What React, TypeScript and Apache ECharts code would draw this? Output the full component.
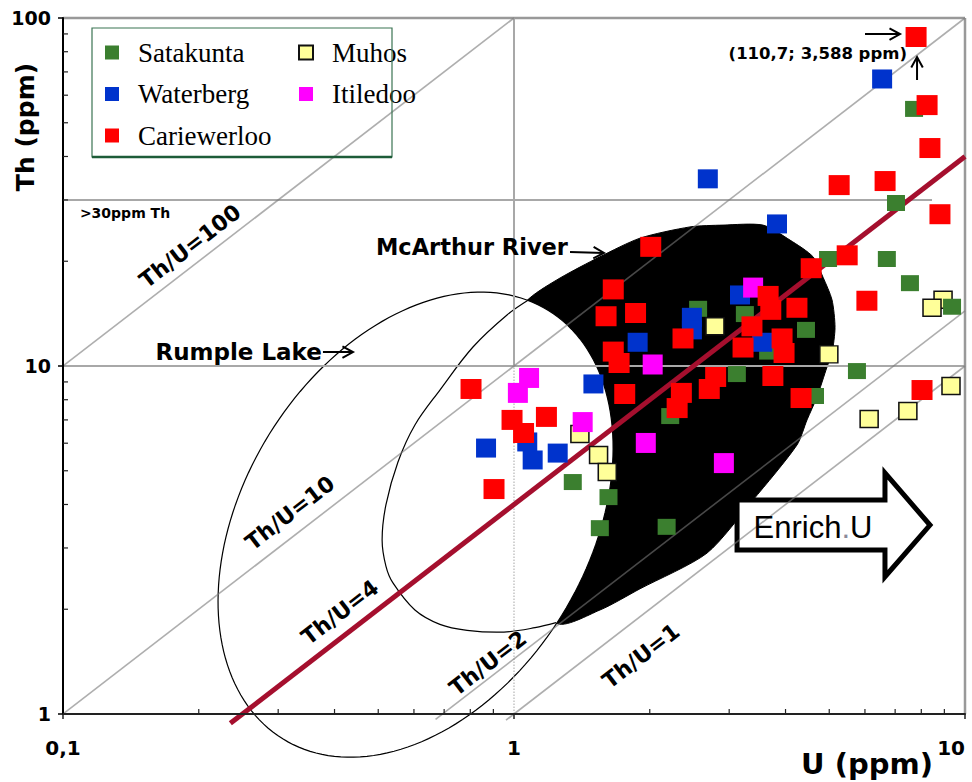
import React, { useEffect, useRef } from "react";
import * as echarts from "echarts";

const FONT_SANS = '"DejaVu Sans", "Liberation Sans", sans-serif';
const FONT_ARIAL = '"Liberation Sans", Arial, sans-serif';
const FONT_SERIF = '"Liberation Serif", "DejaVu Serif", serif';

// ---- data: [U (ppm), Th (ppm)] ----
const satakunta: number[][] = [
  [7.71, 54.8], [7.03, 29.4], [4.97, 20.3], [6.71, 20.3], [7.55, 17.3], [9.36, 14.8],
  [2.56, 14.6], [3.25, 14.1], [4.44, 12.7], [3.66, 11.0], [3.12, 9.48], [5.76, 9.67],
  [4.65, 8.2], [2.22, 7.18], [1.35, 4.64], [1.62, 4.2], [1.55, 3.42], [2.18, 3.45],
];
const waterberg: number[][] = [
  [6.55, 66.8], [2.69, 34.5], [3.83, 25.6], [3.17, 16.0], [2.48, 13.8], [2.48, 12.7],
  [3.55, 11.7], [1.88, 11.7], [1.5, 8.88], [0.867, 5.81], [1.07, 6.05], [1.1, 5.37], [1.25, 5.62],
];
const cariewerloo: number[][] = [
  [7.79, 88.2], [8.24, 56.2], [8.36, 42.3], [5.26, 33.1], [6.65, 34.0], [8.8, 27.3],
  [2.01, 22.0], [5.48, 20.8], [4.56, 19.1], [1.66, 16.6], [1.6, 13.9], [1.86, 14.2],
  [6.06, 15.4], [3.66, 15.9], [3.71, 14.5], [4.24, 14.7], [3.37, 13.0], [3.93, 12.0],
  [3.97, 10.9], [2.37, 12.0], [1.66, 11.0], [1.71, 10.2], [3.22, 11.3], [1.76, 8.31],
  [2.8, 9.3], [3.75, 9.36], [2.71, 8.59], [2.35, 8.37], [4.33, 8.09], [2.3, 7.57],
  [8.03, 8.53], [0.803, 8.59], [0.99, 7.0], [1.18, 7.14], [1.05, 6.42], [0.903, 4.43],
];
const muhos: number[][] = [
  [2.79, 13.0], [4.99, 10.8], [8.94, 15.5], [8.45, 14.7], [9.31, 8.76], [7.47, 7.42],
  [6.13, 7.04], [1.4, 6.38], [1.54, 5.55], [1.61, 4.96],
];
const itiledoo: number[][] = [
  [3.39, 16.8], [2.03, 10.1], [1.08, 9.24], [1.02, 8.37], [1.42, 6.9], [1.96, 6.01], [2.92, 5.26],
];

// ---- axes ----
const xTickValues = [0.1, 1, 10];
const xTickLabels = ["0,1", "1", "10"];
const yTickValues = [1, 10, 100];
const yTickLabels = ["1", "10", "100"];
const minorMultipliers = [2, 3, 4, 5, 6, 7, 8, 9];

// ---- Th/U reference lines ----
const ratioLineStarts: number[][] = [[0.096, 9.6], [0.096, 0.96], [0.67, 0.965], [0.96, 0.96]];
const ratioLineEnds: number[][] = [[1, 100], [10, 100], [10, 14.4], [10, 10]];
const mainRatioLine: number[][] = [[0.235, 0.94], [10, 40]];
const ratioLabels = ["Th/U=100", "Th/U=10", "Th/U=4", "Th/U=2", "Th/U=1"];
const ratioLabelPositions: number[][] = [[0.1913, 22.1], [0.3186, 3.78], [0.4113, 1.96], [0.8757, 1.4], [1.912, 1.468]];

// ---- guide lines ----
const guideTh10: number[][] = [[0.1, 10], [10, 10]];
const guideTh30: number[][] = [[0.1, 30], [8.45, 30]];
const guideTop: number[][] = [[0.1, 100], [10, 100]];
const guideRight: number[][] = [[10, 1], [10, 100]];
const guideU1Solid: number[][] = [[1, 10], [1, 100]];
const guideU1Dotted: number[][] = [[1, 1], [1, 10]];

// ---- fields ----
const mcArthurOutline: number[][] = [
  [1.085, 15.7], [1.265, 17.9], [1.551, 20.6], [1.903, 23.3], [2.456, 25.1], [2.907, 25.4],
  [3.565, 25.4], [4.093, 23.0], [4.603, 20.6], [4.843, 18.0], [5.071, 15.5], [5.15, 12.9],
  [5.071, 10.9], [4.943, 9.93], [4.697, 8.15], [4.464, 7.0], [4.241, 5.93], [3.388, 4.12],
  [2.679, 2.9], [1.903, 2.29], [1.551, 1.99], [1.239, 1.83], [0.841, 4.12], [0.841, 11.1],
];
const rumpleCenter = [0.605, 3.5];
const rumpleAxes = [0.2945, -0.3242, 0.6155, 0.2604];
const innerCurve: number[][] = [
  [1.085, 15.58], [0.965, 14.02], [0.811, 11.34], [0.685, 8.53], [0.603, 6.77], [0.553, 5.3],
  [0.52, 3.99], [0.51, 3.16], [0.52, 2.66], [0.539, 2.38], [0.603, 1.99], [0.685, 1.81],
  [0.787, 1.74], [0.95, 1.72], [1.113, 1.77], [1.239, 1.83],
];
const enrichArrow: number[][] = [
  [3.123, 4.12], [6.646, 4.12], [6.646, 4.93], [8.363, 3.49], [6.646, 2.48], [6.646, 2.96], [3.123, 2.96],
];

// ---- notes ----
const noteTexts = ["McArthur River", "Rumple Lake", ">30ppm Th", "(110,7; 3,588 ppm)"];
const notePositions: number[][] = [[1.317, 22.0], [0.375, 10.97], [0.109, 27.5], [7.436, 79.3]];
const noteAligns = ["right", "right", "left", "right"];
const noteSizes = [22.5, 23, 14, 16.5];
const enrichPosition: number[][] = [[4.603, 3.446]];
const arrowFrom: number[][] = [[1.331, 21.27], [0.377, 10.97], [6.002, 89.9], [7.828, 66.35]];
const arrowTo: number[][] = [[1.583, 21.13], [0.4395, 10.97], [7.177, 89.9], [7.828, 77.27]];

function buildOption() {
  const minorTicks: number[][] = [];
  for (let d = 0; d < xTickValues.length - 1; d++)
    for (const m of minorMultipliers) minorTicks.push([xTickValues[d] * m, yTickValues[0], 0]);
  for (let d = 0; d < yTickValues.length - 1; d++)
    for (const m of minorMultipliers) minorTicks.push([xTickValues[0], yTickValues[d] * m, 1]);

  const fmt = (vals: number[], labels: string[]) => (v: number) => {
    let best = 0;
    for (let i = 1; i < vals.length; i++)
      if (Math.abs(Math.log10(vals[i]) - Math.log10(v)) < Math.abs(Math.log10(vals[best]) - Math.log10(v))) best = i;
    return labels[best];
  };

  const line = (data: number[][], color: string, width: number, type = "solid", z = 2) => ({
    type: "line", data, symbol: "none", silent: true, clip: false, z,
    lineStyle: { color, width, type }, emphasis: { disabled: true },
  });

  const scatter = (name: string, data: number[][], color: string, size: number[], border?: string) => ({
    name, type: "scatter", data, symbol: "rect", symbolSize: size, z: 3, silent: true,
    itemStyle: border ? { color, borderColor: border, borderWidth: 1.5, opacity: 1 } : { color, opacity: 1 },
    emphasis: { disabled: true },
  });

  const gray = "rgba(120,120,120,0.6)";

  const legendCommon = {
    orient: "vertical", itemWidth: 14, itemHeight: 14, itemGap: 14.5, padding: 0, selectedMode: false,
    textStyle: { fontFamily: FONT_SERIF, fontSize: 27, color: "#000", lineHeight: 26, padding: [0, 0, 0, 14] },
  };

  return {
    animation: false,
    backgroundColor: "#fff",
    grid: { left: 63, right: 7, top: 18, bottom: 68, containLabel: false, outerBoundsMode: "none" },
    xAxis: {
      type: "log", logBase: 10, min: 0.1, max: 10, z: 5,
      axisLine: { lineStyle: { color: "#222", width: 2 } },
      axisTick: { show: true, length: 5, lineStyle: { color: "#222", width: 1.5 } },
      axisLabel: { formatter: fmt(xTickValues, xTickLabels), fontFamily: FONT_SANS, fontWeight: "bold", fontSize: 20, color: "#000", margin: 24, alignMaxLabel: "right" },
      splitLine: { show: false },
    },
    yAxis: {
      type: "log", logBase: 10, min: 1, max: 100, z: 5,
      axisLine: { lineStyle: { color: "#000", width: 2 } },
      axisTick: { show: true, length: 5, lineStyle: { color: "#000", width: 1.5 } },
      axisLabel: { formatter: fmt(yTickValues, yTickLabels), fontFamily: FONT_SANS, fontWeight: "bold", fontSize: 19, color: "#000", margin: 12 },
      splitLine: { show: false },
    },
    legend: [
      { ...legendCommon, data: ["Satakunta", "Waterberg", "Cariewerloo"], left: 105, top: 39 },
      { ...legendCommon, data: ["Muhos", "Itiledoo"], left: 298, top: 39 },
    ],
    graphic: [
      { type: "rect", shape: { x: 92, y: 28, width: 300, height: 129 }, style: { fill: "none", stroke: "#3b7453", lineWidth: 1.2 }, z: 10 },
      { type: "line", shape: { x1: 92, y1: 157, x2: 392, y2: 157 }, style: { stroke: "#1d5c38", lineWidth: 2.5 }, z: 10 },
      { type: "text", x: 25, y: 127, rotation: Math.PI / 2, style: { text: "Th (ppm)", fontFamily: FONT_SANS, fontWeight: "bold", fontSize: 25, fill: "#000", align: "center", verticalAlign: "middle" }, z: 10 },
      { type: "text", x: 867, y: 764, style: { text: "U (ppm)", fontFamily: FONT_SANS, fontWeight: "bold", fontSize: 29, fill: "#000", align: "center", verticalAlign: "middle" }, z: 10 },
    ],
    series: [
      {
        type: "custom", name: "fields", data: [[1, 10]], z: 1, silent: true, clip: false,
        renderItem: (params: any, api: any) => {
          const c = (p: number[]) => api.coord(p);
          const lc = [Math.log10(rumpleCenter[0]), Math.log10(rumpleCenter[1])];
          const ell: number[][] = [];
          for (let i = 0; i < 180; i++) {
            const t = (i / 180) * Math.PI * 2;
            const lu = lc[0] + rumpleAxes[0] * Math.cos(t) + rumpleAxes[1] * Math.sin(t);
            const lt = lc[1] + rumpleAxes[2] * Math.cos(t) + rumpleAxes[3] * Math.sin(t);
            ell.push(c([Math.pow(10, lu), Math.pow(10, lt)]));
          }
          return {
            type: "group",
            children: [
              { type: "polygon", shape: { points: mcArthurOutline.map(c), smooth: 0.25 }, style: { fill: "#000", stroke: "#000", lineWidth: 1 } },
              { type: "polygon", shape: { points: ell }, style: { fill: "#fff", stroke: "#000", lineWidth: 1.2 } },
              { type: "polyline", shape: { points: innerCurve.map(c), smooth: 0.35 }, style: { fill: "none", stroke: "#000", lineWidth: 1.2 } },
              { type: "polygon", shape: { points: enrichArrow.map(c) }, style: { fill: "#fff", stroke: "#000", lineWidth: 5, lineJoin: "miter" } },
            ],
          };
        },
      },
      line(guideTh10, "#a8a8a8", 2),
      line(guideTh30, "#a8a8a8", 2),
      line(guideTop, "#999", 2.5),
      line(guideRight, "#999", 2.5),
      line(guideU1Solid, "#a8a8a8", 2),
      line(guideU1Dotted, "#c4c4c4", 1.5, "dotted"),
      ...ratioLineStarts.map((s, i) => line([s, ratioLineEnds[i]], gray, 1.6)),
      line(mainRatioLine, "#a50f2e", 5),
      {
        type: "custom", name: "minorTicks", data: minorTicks, z: 6, silent: true, clip: false,
        renderItem: (params: any, api: any) => {
          const p = api.coord([api.value(0), api.value(1)]);
          const horiz = api.value(2) === 1;
          return {
            type: "line",
            shape: horiz ? { x1: p[0], y1: p[1], x2: p[0] + 5, y2: p[1] } : { x1: p[0], y1: p[1], x2: p[0], y2: p[1] - 5 },
            style: { stroke: "#222", lineWidth: 1.2 },
          };
        },
      },
      scatter("Muhos", muhos, "#ffff99", [18, 17], "#111"),
      scatter("Satakunta", satakunta, "#3b7f2f", [18, 16]),
      scatter("Waterberg", waterberg, "#0033cc", [20, 19]),
      scatter("Itiledoo", itiledoo, "#ff00ff", [20, 20]),
      scatter("Cariewerloo", cariewerloo, "#ff0000", [21, 20]),
      {
        type: "custom", name: "ratioLabels", data: ratioLabelPositions, z: 7, silent: true, clip: false,
        renderItem: (params: any, api: any) => {
          const p = api.coord([api.value(0), api.value(1)]);
          const a = api.coord([1, 1]);
          const b = api.coord([10, 10]);
          const rot = Math.atan2(a[1] - b[1], b[0] - a[0]);
          return {
            type: "text", x: p[0], y: p[1], rotation: rot,
            style: { text: ratioLabels[params.dataIndex], fontFamily: FONT_SANS, fontWeight: "bold", fontSize: 22, fill: "#000", align: "center", verticalAlign: "middle" },
          };
        },
      },
      {
        type: "custom", name: "notes", data: notePositions, z: 7, silent: true, clip: false,
        renderItem: (params: any, api: any) => {
          const p = api.coord([api.value(0), api.value(1)]);
          const i = params.dataIndex;
          return {
            type: "text", x: p[0], y: p[1],
            style: { text: noteTexts[i], fontFamily: FONT_SANS, fontWeight: "bold", fontSize: noteSizes[i], fill: "#000", align: noteAligns[i], verticalAlign: "middle" },
          };
        },
      },
      {
        type: "custom", name: "enrich", data: enrichPosition, z: 7, silent: true, clip: false,
        renderItem: (params: any, api: any) => {
          const p = api.coord([api.value(0), api.value(1)]);
          return {
            type: "text", x: p[0], y: p[1],
            style: {
              text: "{a|Enrich}{b|.}{a|U}", align: "center", verticalAlign: "middle",
              rich: {
                a: { fontFamily: FONT_ARIAL, fontSize: 31, fill: "#000" },
                b: { fontFamily: FONT_ARIAL, fontSize: 31, fill: "#8a8a9a" },
              },
            },
          };
        },
      },
      {
        type: "custom", name: "arrows", data: arrowFrom, z: 7, silent: true, clip: false,
        renderItem: (params: any, api: any) => {
          const s = api.coord([api.value(0), api.value(1)]);
          const e = api.coord(arrowTo[params.dataIndex]);
          const ang = Math.atan2(e[1] - s[1], e[0] - s[0]);
          const L = 12, spread = 0.5;
          const h1 = [e[0] - L * Math.cos(ang - spread), e[1] - L * Math.sin(ang - spread)];
          const h2 = [e[0] - L * Math.cos(ang + spread), e[1] - L * Math.sin(ang + spread)];
          return {
            type: "group",
            children: [
              { type: "line", shape: { x1: s[0], y1: s[1], x2: e[0], y2: e[1] }, style: { stroke: "#000", lineWidth: 2 } },
              { type: "polyline", shape: { points: [h1, e, h2] }, style: { fill: "none", stroke: "#000", lineWidth: 2 } },
            ],
          };
        },
      },
    ],
  };
}

export default function App() {
  const ref = useRef<HTMLDivElement>(null);
  useEffect(() => {
    if (!ref.current) return;
    const chart = echarts.init(ref.current, null, { renderer: "svg" });
    chart.setOption(buildOption() as any);
    return () => chart.dispose();
  }, []);
  return (
    <div
      ref={ref}
      style={{ position: "fixed", left: 0, top: 0, width: 972, height: 782, background: "#fff" }}
    />
  );
}
